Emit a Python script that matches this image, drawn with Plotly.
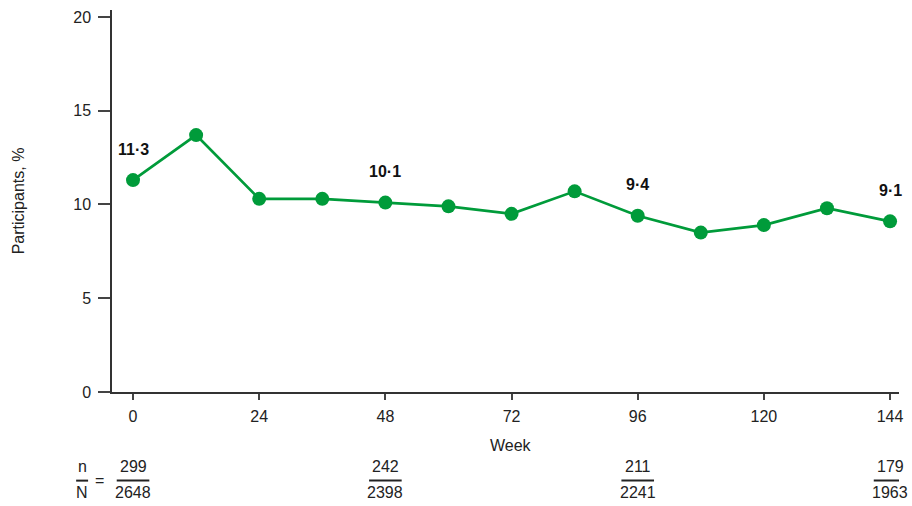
import plotly.graph_objects as go

weeks = [0, 12, 24, 36, 48, 60, 72, 84, 96, 108, 120, 132, 144]
pct = [11.3, 13.7, 10.3, 10.3, 10.1, 9.9, 9.5, 10.7, 9.4, 8.5, 8.9, 9.8, 9.1]

label_weeks = [0, 48, 96, 144]
label_text = ["11·3", "10·1", "9·4", "9·1"]

table_weeks = [0, 48, 96, 144]
n_vals = ["299", "242", "211", "179"]
N_vals = ["2648", "2398", "2241", "1963"]

x_ticks = [0, 24, 48, 72, 96, 120, 144]
y_ticks = [0, 5, 10, 15, 20]

green = "#009B3A"
font = "Liberation Sans, Arial, sans-serif"
FS = 16

L, W = 112, 790


def px2paper(p):
    return (p - L) / float(W)


fig = go.Figure()
fig.add_trace(go.Scatter(
    x=weeks, y=pct, mode="lines+markers",
    line=dict(color=green, width=2.7),
    marker=dict(color=green, size=14),
    showlegend=False, hoverinfo="skip",
))

ann = []
lookup = dict(zip(weeks, pct))
for w, t in zip(label_weeks, label_text):
    ann.append(dict(x=w, y=lookup[w], xref="x", yref="y", text="<b>%s</b>" % t,
                    showarrow=False, yshift=31, xanchor="center",
                    font=dict(size=FS, color="#111", family=font)))

Y_NUM = -0.195
Y_LINE = -0.232
Y_DEN = -0.263
shapes = []
for w, n, N in zip(table_weeks, n_vals, N_vals):
    ann.append(dict(x=w, y=Y_NUM, xref="x", yref="paper", text=n, showarrow=False,
                    xanchor="center", yanchor="middle", font=dict(size=FS, color="#222", family=font)))
    ann.append(dict(x=w, y=Y_DEN, xref="x", yref="paper", text=N, showarrow=False,
                    xanchor="center", yanchor="middle", font=dict(size=FS, color="#222", family=font)))
    shapes.append(dict(type="line", xref="x", yref="paper", x0=w - 3.1, x1=w + 3.1,
                       y0=Y_LINE, y1=Y_LINE, line=dict(color="#222", width=2)))

# n/N =
ann.append(dict(x=px2paper(82), y=Y_NUM, xref="paper", yref="paper", text="n", showarrow=False,
                xanchor="center", yanchor="middle", font=dict(size=FS, color="#222", family=font)))
ann.append(dict(x=px2paper(82), y=Y_DEN, xref="paper", yref="paper", text="N", showarrow=False,
                xanchor="center", yanchor="middle", font=dict(size=FS, color="#222", family=font)))
ann.append(dict(x=px2paper(99), y=Y_LINE, xref="paper", yref="paper", text="=", showarrow=False,
                xanchor="center", yanchor="middle", font=dict(size=FS, color="#222", family=font)))
shapes.append(dict(type="line", xref="paper", yref="paper", x0=px2paper(76),
                   x1=px2paper(88), y0=Y_LINE, y1=Y_LINE, line=dict(color="#222", width=2)))

ann.append(dict(x=px2paper(513), y=-0.141, xref="paper", yref="paper", text="Week", showarrow=False,
                xanchor="center", yanchor="middle", font=dict(size=FS, color="#222", family=font)))
ann.append(dict(x=px2paper(18), y=0.5, xref="paper", yref="paper", text="Participants, %",
                showarrow=False, textangle=-90, xanchor="center", yanchor="middle",
                font=dict(size=FS, color="#222", family=font)))

fig.update_layout(
    width=912, height=506,
    margin=dict(l=112, r=10, t=9, b=114),
    paper_bgcolor="white", plot_bgcolor="white",
    font=dict(family=font, size=FS, color="#222"),
    annotations=ann, shapes=shapes,
    xaxis=dict(range=[-4, 145.7], tickvals=x_ticks, ticks="outside", ticklen=6,
               tickwidth=1.5, tickcolor="#444", showline=True, linecolor="#333", linewidth=1.5,
               ticklabelstandoff=3,
               showgrid=False, zeroline=False, tickfont=dict(size=FS, color="#222")),
    yaxis=dict(range=[0, 20.37], tickvals=y_ticks, ticks="outside", ticklen=12,
               tickwidth=1.5, tickcolor="#444", showline=True, linecolor="#333", linewidth=1.5,
               ticklabelstandoff=4,
               showgrid=False, zeroline=False, tickfont=dict(size=FS, color="#222")),
)

fig.write_html("out.html")
